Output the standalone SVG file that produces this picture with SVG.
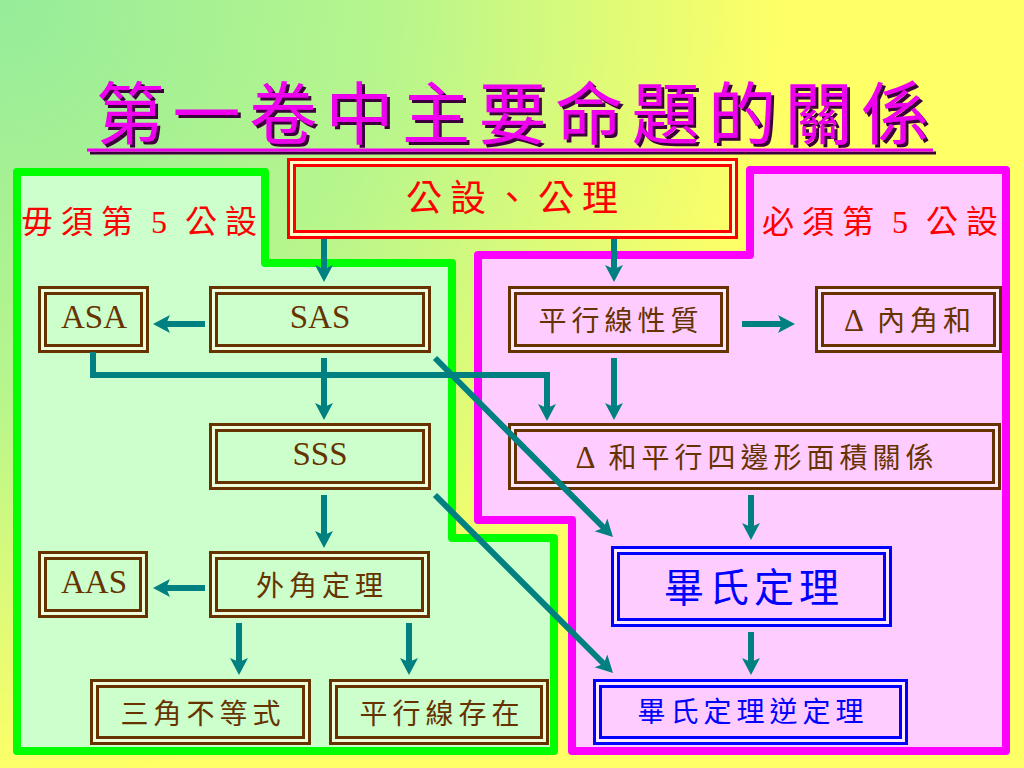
<svg xmlns="http://www.w3.org/2000/svg" width="1024" height="768" viewBox="0 0 1024 768">
<defs>
<radialGradient id="bg" cx="0" cy="0" r="1150" gradientUnits="userSpaceOnUse">
<stop offset="0" stop-color="#96ec9a"/>
<stop offset="0.35" stop-color="#b8f68c"/>
<stop offset="0.68" stop-color="#ffff66"/>
<stop offset="1" stop-color="#ffff66"/>
</radialGradient>
<filter id="sh" x="-5%" y="-20%" width="110%" height="140%">
<feDropShadow dx="3" dy="3" stdDeviation="0.6" flood-color="#3a003a" flood-opacity="1"/>
</filter>
<marker id="ah" markerUnits="userSpaceOnUse" viewBox="-6 -10 20 20" markerWidth="20" markerHeight="20" refX="0" refY="0" orient="auto">
<path d="M-5,-9 L12,0 L-5,9 L-1,0 Z" fill="#008080"/>
</marker>
<style>
.t{font-family:'Liberation Serif','Noto Sans CJK TC',serif;text-anchor:middle}
.brown{fill:#663300;font-size:28px;letter-spacing:5px;word-spacing:-4px}
.lat{fill:#663300;font-size:33px}
.red{fill:#ff0000;font-size:32px;letter-spacing:8px;word-spacing:-6px;text-anchor:start}
.blue{fill:#0000ff}
.bL{fill:#ccffcc;stroke:#663300;stroke-width:9}
.bR{fill:#ffccff;stroke:#663300;stroke-width:9}
.bB{fill:#ffccff;stroke:#0000ff;stroke-width:9}
.gL{fill:none;stroke:#eeffdd;stroke-width:3}
.gR{fill:none;stroke:#ffeaff;stroke-width:3}
.conn{fill:none;stroke:#008080;stroke-width:6;marker-end:url(#ah)}
.delta{font-size:31px}
</style>
</defs>
<rect x="0" y="0" width="1024" height="768" fill="url(#bg)"/>

<g id="title" filter="url(#sh)">
<text x="96" y="139" font-family="'Noto Sans CJK TC',sans-serif" font-size="68" letter-spacing="8.5" fill="#ee00ee">第一卷中主要命題的關係</text>
<line x1="87" y1="150" x2="933" y2="150" stroke="#ee00ee" stroke-width="3"/>
</g>

<g id="region-no-fifth">
<path d="M17,172 H265 V263 H452 V538 H554 V751 H17 Z" fill="#ccffcc" stroke="#00ff00" stroke-width="8" stroke-linejoin="round"/>
<text class="t red" x="21" y="233">毋須第 5 公設</text>
</g>

<g id="region-fifth">
<path d="M750,170 H1006 V751 H572 V520 H478 V255 H750 Z" fill="#ffccff" stroke="#ff00ff" stroke-width="8" stroke-linejoin="round"/>
<text class="t red" x="762" y="233">必須第 5 公設</text>
</g>

<g id="node-axioms">
<rect x="291.5" y="162.5" width="442" height="72" fill="none" stroke="#ff0000" stroke-width="9"/>
<rect x="291.5" y="162.5" width="442" height="72" fill="none" stroke="#ffffcc" stroke-width="3"/>
<text class="t" x="516" y="211" fill="#ff0000" font-size="36" letter-spacing="8">公設、公理</text>
</g>

<g id="node-asa">
<rect class="bL" x="42.5" y="290.5" width="102" height="58"/>
<rect class="gL" x="42.5" y="290.5" width="102" height="58"/>
<text class="t lat" x="94" y="328">ASA</text>
</g>

<g id="node-sas">
<rect class="bL" x="213.5" y="290.5" width="213" height="58"/>
<rect class="gL" x="213.5" y="290.5" width="213" height="58"/>
<text class="t lat" x="320" y="328">SAS</text>
</g>

<g id="node-sss">
<rect class="bL" x="213.5" y="427.5" width="213" height="58"/>
<rect class="gL" x="213.5" y="427.5" width="213" height="58"/>
<text class="t lat" x="320" y="465">SSS</text>
</g>

<g id="node-exterior">
<rect class="bL" x="213.5" y="555.5" width="212" height="58"/>
<rect class="gL" x="213.5" y="555.5" width="212" height="58"/>
<text class="t brown" x="322" y="596">外角定理</text>
</g>

<g id="node-aas">
<rect class="bL" x="42.5" y="555.5" width="101" height="58"/>
<rect class="gL" x="42.5" y="555.5" width="101" height="58"/>
<text class="t lat" x="94" y="593">AAS</text>
</g>

<g id="node-triangle-ineq">
<rect class="bL" x="94.5" y="683.5" width="212" height="57"/>
<rect class="gL" x="94.5" y="683.5" width="212" height="57"/>
<text class="t brown" x="203" y="724">三角不等式</text>
</g>

<g id="node-parallel-exist">
<rect class="bL" x="333.5" y="683.5" width="211" height="57"/>
<rect class="gL" x="333.5" y="683.5" width="211" height="57"/>
<text class="t brown" x="442" y="724">平行線存在</text>
</g>

<g id="node-parallel-prop">
<rect class="bR" x="512.5" y="290.5" width="212" height="58"/>
<rect class="gR" x="512.5" y="290.5" width="212" height="58"/>
<text class="t brown" x="621" y="331">平行線性質</text>
</g>

<g id="node-angle-sum">
<rect class="bR" x="819.5" y="290.5" width="178" height="58"/>
<rect class="gR" x="819.5" y="290.5" width="178" height="58"/>
<text class="t brown" x="910" y="331"><tspan class="delta">Δ</tspan> 內角和</text>
</g>

<g id="node-area">
<rect class="bR" x="512.5" y="427.5" width="484" height="58"/>
<rect class="gR" x="512.5" y="427.5" width="484" height="58"/>
<text class="t brown" x="757" y="468"><tspan class="delta">Δ</tspan> 和平行四邊形面積關係</text>
</g>

<g id="node-pythagoras">
<rect class="bB" x="615.5" y="550.5" width="272" height="72"/>
<rect class="gR" x="615.5" y="550.5" width="272" height="72"/>
<text class="t blue" x="754" y="602" font-size="40" letter-spacing="5">畢氏定理</text>
</g>

<g id="node-converse">
<rect class="bB" x="597.5" y="683.5" width="306" height="57"/>
<rect class="gR" x="597.5" y="683.5" width="306" height="57"/>
<text class="t blue" x="753" y="722" font-size="28" letter-spacing="5">畢氏定理逆定理</text>
</g>

<g id="connectors">
<path class="conn" d="M324,239 V270"/>
<path class="conn" d="M614,239 V270"/>
<path class="conn" d="M205,324 H165"/>
<path class="conn" d="M324,358 V408"/>
<path class="conn" d="M93,352 V375 H547 V409"/>
<path class="conn" d="M614,358 V408"/>
<path class="conn" d="M742,324 H783"/>
<path class="conn" d="M435,358 L604.5,528.5"/>
<path class="conn" d="M324,495 V536"/>
<path class="conn" d="M435,495 L604.5,664.5"/>
<path class="conn" d="M205,588 H165"/>
<path class="conn" d="M239,623 V663"/>
<path class="conn" d="M409,623 V663"/>
<path class="conn" d="M751,495 V528"/>
<path class="conn" d="M751,632 V663"/>
</g>
</svg>
